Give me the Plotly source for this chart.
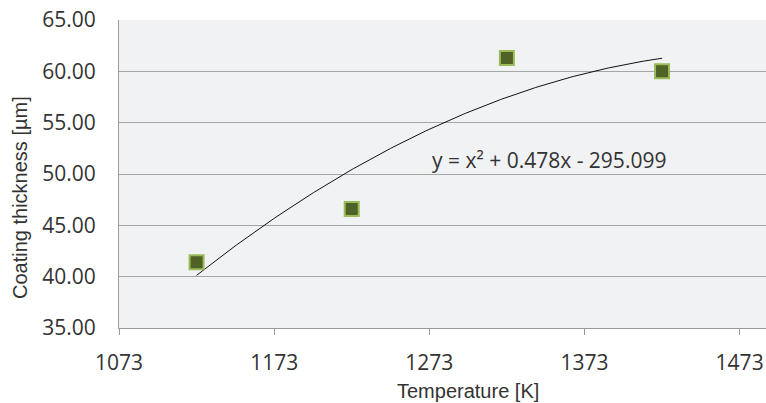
import numpy as np
import plotly.graph_objects as go

temperature_K = [1123, 1223, 1323, 1423]
thickness_um = [41.4, 46.6, 61.3, 60.0]
x_ticks = [1073, 1173, 1273, 1373, 1473]
equation_label = "y = x² + 0.478x - 295.099"

# quadratic trendline fitted to the data
coef = np.polyfit(temperature_K, thickness_um, 2)
xt = np.linspace(min(temperature_K), max(temperature_K), 200)
yt = np.polyval(coef, xt)

fig = go.Figure()
fig.add_trace(go.Scatter(x=xt, y=yt, mode="lines",
                         line=dict(color="#111111", width=1), hoverinfo="skip"))
fig.add_trace(go.Scatter(x=temperature_K, y=thickness_um, mode="markers",
                         marker=dict(symbol="square", size=14, color="#4f6228",
                                     line=dict(color="#9bbb59", width=2))))

font_main = "Open Sans, sans-serif"
font_narrow = "Liberation Sans Narrow, Liberation Sans, sans-serif"
L, R, T, B = 119, 0, 20, 75
W, H = 766, 403
pw, ph = W - L - R, H - T - B

def px(xp):
    return (xp - L) / pw

def py(yp):
    return (H - B - yp) / ph

fig.update_layout(
    width=W, height=H,
    margin=dict(l=L, r=R, t=T, b=B),
    paper_bgcolor="white", plot_bgcolor="#f1f2f4",
    showlegend=False,
    font=dict(family=font_main, color="#333333"),
    xaxis=dict(range=[1073, 1490], tickvals=x_ticks, ticktext=[str(v) for v in x_ticks],
               showgrid=False, zeroline=False, showline=True, linecolor="#9a9a9a",
               linewidth=1, ticks="outside", ticklen=6, tickcolor="#9a9a9a",
               ticklabelstandoff=10,
               tickfont=dict(size=21, family=font_main, color="#333333")),
    yaxis=dict(range=[35, 65], dtick=5, tickformat=".2f",
               showgrid=True, gridcolor="#a6a6a6", gridwidth=1, zeroline=False,
               showline=True, linecolor="#9a9a9a", linewidth=1, ticks="",
               ticklabelstandoff=18,
               tickfont=dict(size=21, family=font_main, color="#333333")),
    annotations=[
        dict(x=1350, y=51.4, xref="x", yref="y", text=equation_label, showarrow=False,
             font=dict(size=21, family=font_main, color="#333333"), xanchor="center", yanchor="middle"),
        dict(x=px(20), y=py(198), xref="paper", yref="paper", text="Coating thickness [µm]",
             showarrow=False, textangle=-90, font=dict(size=20, family=font_narrow, color="#333333"),
             xanchor="center", yanchor="middle"),
        dict(x=px(468), y=py(391), xref="paper", yref="paper", text="Temperature [K]", showarrow=False,
             font=dict(size=20, family=font_narrow, color="#333333"),
             xanchor="center", yanchor="middle"),
    ],
)

fig.write_html("out.html")
